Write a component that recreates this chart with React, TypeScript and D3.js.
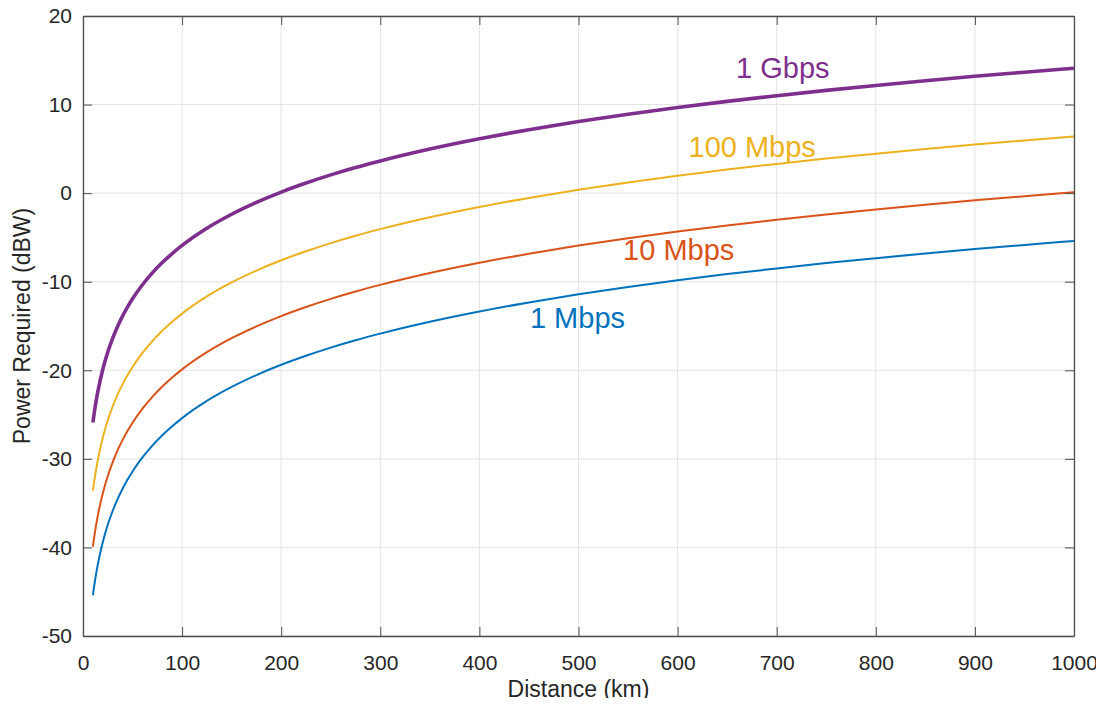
import { useRef, useEffect } from 'react';
import * as d3 from 'd3';

const DISTANCES = [10, 12, 15, 20, 25, 30, 35, 40, 45, 50, 60, 70, 80, 90, 100, 125, 150, 175, 200, 225, 250, 275, 300, 350, 400, 450, 500, 550, 600, 650, 700, 750, 800, 850, 900, 950, 1000];

const GBPS_1 = [-25.9, -24.32, -22.38, -19.88, -17.94, -16.36, -15.02, -13.86, -12.84, -11.92, -10.34, -9.0, -7.84, -6.82, -5.9, -3.96, -2.38, -1.04, 0.12, 1.14, 2.06, 2.89, 3.64, 4.98, 6.14, 7.16, 8.08, 8.91, 9.66, 10.36, 11.0, 11.6, 12.16, 12.69, 13.19, 13.65, 14.1];
const MBPS_100 = [-33.6, -32.02, -30.08, -27.58, -25.64, -24.06, -22.72, -21.56, -20.54, -19.62, -18.04, -16.7, -15.54, -14.52, -13.6, -11.66, -10.08, -8.74, -7.58, -6.56, -5.64, -4.81, -4.06, -2.72, -1.56, -0.54, 0.38, 1.21, 1.96, 2.66, 3.3, 3.9, 4.46, 4.99, 5.49, 5.95, 6.4];
const MBPS_10 = [-39.9, -38.32, -36.38, -33.88, -31.94, -30.36, -29.02, -27.86, -26.84, -25.92, -24.34, -23.0, -21.84, -20.82, -19.9, -17.96, -16.38, -15.04, -13.88, -12.86, -11.94, -11.11, -10.36, -9.02, -7.86, -6.84, -5.92, -5.09, -4.34, -3.64, -3.0, -2.4, -1.84, -1.31, -0.81, -0.35, 0.1];
const MBPS_1 = [-45.4, -43.82, -41.88, -39.38, -37.44, -35.86, -34.52, -33.36, -32.34, -31.42, -29.84, -28.5, -27.34, -26.32, -25.4, -23.46, -21.88, -20.54, -19.38, -18.36, -17.44, -16.61, -15.86, -14.52, -13.36, -12.34, -11.42, -10.59, -9.84, -9.14, -8.5, -7.9, -7.34, -6.81, -6.31, -5.85, -5.4];

const X_TICKS = [0, 100, 200, 300, 400, 500, 600, 700, 800, 900, 1000];
const Y_TICKS = [-50, -40, -30, -20, -10, 0, 10, 20];

// label anchor: [distance, dBW] of the text baseline start
const SERIES = [
  { name: '1 Mbps', values: MBPS_1, color: '#0072BD', width: 2, labelAt: [451, -15.2] },
  { name: '10 Mbps', values: MBPS_10, color: '#D95319', width: 2, labelAt: [545, -7.55] },
  { name: '100 Mbps', values: MBPS_100, color: '#EDB120', width: 2, labelAt: [611, 4.1] },
  { name: '1 Gbps', values: GBPS_1, color: '#7E2F8E', width: 3.6, labelAt: [659, 13.0] },
];

const FONT = "'Liberation Sans', Arial, Helvetica, sans-serif";

export default function App() {
  const svgRef = useRef<SVGSVGElement>(null);

  useEffect(() => {
    if (!svgRef.current) return;
    const svg = d3.select(svgRef.current);
    svg.selectAll('*').remove();

    const W = 1104;
    const H = 706;
    const margin = { top: 16, right: 30, bottom: 70, left: 83 };
    const width = W - margin.left - margin.right;
    const height = H - margin.top - margin.bottom;

    svg.attr('width', W).attr('height', H);
    svg.append('rect').attr('width', W).attr('height', H).attr('fill', '#fff');

    const g = svg.append('g').attr('transform', `translate(${margin.left},${margin.top})`);

    const x = d3.scaleLinear().domain([0, 1000]).range([0, width]);
    const y = d3.scaleLinear().domain([-50, 20]).range([height, 0]);

    // Grid
    g.append('g')
      .selectAll('line')
      .data(X_TICKS)
      .join('line')
      .attr('x1', (d) => x(d))
      .attr('x2', (d) => x(d))
      .attr('y1', 0)
      .attr('y2', height)
      .attr('stroke', '#e3e3e3')
      .attr('stroke-width', 1);
    g.append('g')
      .selectAll('line')
      .data(Y_TICKS)
      .join('line')
      .attr('x1', 0)
      .attr('x2', width)
      .attr('y1', (d) => y(d))
      .attr('y2', (d) => y(d))
      .attr('stroke', '#e3e3e3')
      .attr('stroke-width', 1);

    // Curves
    const line = d3
      .line<number>()
      .x((_d, i) => x(DISTANCES[i]))
      .y((d) => y(d))
      .curve(d3.curveMonotoneX);

    for (const s of SERIES) {
      g.append('path')
        .datum(s.values)
        .attr('fill', 'none')
        .attr('stroke', s.color)
        .attr('stroke-width', s.width)
        .attr('stroke-linejoin', 'round')
        .attr('d', line);
    }

    // Box + ticks on all sides
    const axisColor = '#4d4d4d';
    const fmt = (d: d3.NumberValue) => String(d);
    const styleAxis = (a: d3.Selection<SVGGElement, unknown, null, undefined>, labels: boolean) => {
      a.selectAll('.domain').attr('stroke', axisColor).attr('stroke-width', 1.3);
      a.selectAll('.tick line').attr('stroke', axisColor).attr('stroke-width', 1);
      a.selectAll('text')
        .attr('fill', '#262626')
        .attr('font-size', '21px')
        .attr('font-family', FONT)
        .style('display', labels ? null : 'none');
    };

    const xb = g
      .append('g')
      .attr('transform', `translate(0,${height})`)
      .call(d3.axisBottom(x).tickValues(X_TICKS).tickSize(-9).tickSizeOuter(0).tickPadding(19).tickFormat(fmt));
    styleAxis(xb, true);
    const xt = g
      .append('g')
      .call(d3.axisTop(x).tickValues(X_TICKS).tickSize(-9).tickSizeOuter(0).tickFormat(() => ''));
    styleAxis(xt, false);
    const yl = g
      .append('g')
      .call(d3.axisLeft(y).tickValues(Y_TICKS).tickSize(-9).tickSizeOuter(0).tickPadding(11).tickFormat(fmt));
    styleAxis(yl, true);
    const yr = g
      .append('g')
      .attr('transform', `translate(${width},0)`)
      .call(d3.axisRight(y).tickValues(Y_TICKS).tickSize(-9).tickSizeOuter(0).tickFormat(() => ''));
    styleAxis(yr, false);

    // Curve labels
    for (const s of SERIES) {
      g.append('text')
        .attr('x', x(s.labelAt[0]))
        .attr('y', y(s.labelAt[1]))
        .attr('fill', s.color)
        .attr('font-size', '29px')
        .attr('font-family', FONT)
        .text(s.name);
    }

    // Axis titles
    svg
      .append('text')
      .attr('x', margin.left + width / 2)
      .attr('y', 697)
      .attr('text-anchor', 'middle')
      .attr('fill', '#262626')
      .attr('font-size', '23px')
      .attr('font-family', FONT)
      .text('Distance (km)');
    svg
      .append('text')
      .attr('transform', `translate(30,${margin.top + height / 2}) rotate(-90)`)
      .attr('text-anchor', 'middle')
      .attr('fill', '#262626')
      .attr('font-size', '23px')
      .attr('font-family', FONT)
      .text('Power Required (dBW)');
  }, []);

  return (
    <div style={{ margin: -8 }}>
      <svg ref={svgRef} style={{ display: 'block' }} />
    </div>
  );
}
